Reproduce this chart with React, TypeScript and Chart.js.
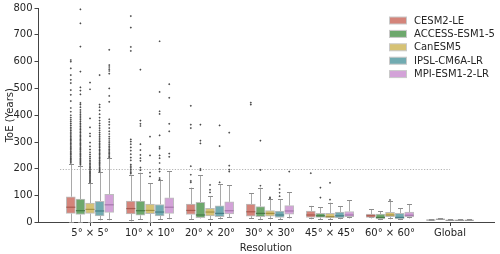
import React, { useEffect, useRef } from "react";
import { Chart, registerables } from "chart.js";

Chart.register(...registerables);

const categories = ["5° × 5°", "10° × 10°", "20° × 20°", "30° × 30°", "45° × 45°", "60° × 60°", "Global"];
const models = ["CESM2-LE", "ACCESS-ESM1-5", "CanESM5", "IPSL-CM6A-LR", "MPI-ESM1-2-LR"];
const fillColors = ["#d4847a", "#6da86c", "#d6c274", "#71abb1", "#d3a2d8"];
const medianColors = ["#a85a4f", "#477a47", "#a39044", "#487f86", "#a676ac"];
const yTicks = [0, 100, 200, 300, 400, 500, 600, 700, 800];
const threshold = 200;

// box statistics per model across categories
const cesmQ1 = [34, 32, 30, 24, 19, 19, 9];
const cesmMed = [57, 52, 45, 40, 28, 25, 9];
const cesmQ3 = [96, 80, 69, 69, 43, 31, 9];
const cesmLo = [0, 4, 10, 13, 12, 15, 9];
const cesmHi = [217, 177, 130, 109, 62, 49, 9];

const accessQ1 = [30, 27, 18, 22, 19, 13, 12];
const accessMed = [44, 44, 28, 34, 25, 19, 12];
const accessQ3 = [87, 80, 75, 59, 34, 31, 12];
const accessLo = [0, 10, 15, 9, 11, 9, 12];
const accessHi = [211, 186, 176, 130, 57, 42, 12];

const canQ1 = [34, 33, 25, 24, 17, 22, 8];
const canMed = [49, 45, 39, 34, 22, 28, 8];
const canQ3 = [72, 69, 53, 44, 34, 38, 8];
const canLo = [0, 0, 10, 12, 11, 12, 8];
const canHi = [146, 146, 99, 87, 74, 79, 8];

const ipslQ1 = [25, 25, 22, 19, 17, 13, 8];
const ipslMed = [43, 39, 34, 28, 25, 19, 8];
const ipslQ3 = [79, 67, 62, 43, 39, 34, 8];
const ipslLo = [8, 10, 12, 10, 12, 9, 8];
const ipslHi = [187, 157, 142, 87, 60, 54, 8];

const mpiQ1 = [38, 34, 32, 31, 22, 21, 8];
const mpiMed = [66, 57, 44, 43, 28, 27, 8];
const mpiQ3 = [105, 92, 77, 63, 41, 39, 8];
const mpiLo = [8, 12, 18, 15, 15, 15, 8];
const mpiHi = [240, 191, 139, 113, 83, 69, 8];

// outliers per model, one list per category
const cesmOutliers = [
  [222, 226, 230, 235, 239, 244, 248, 253, 257, 262, 266, 271, 276, 281, 285, 290, 295, 300, 305, 310, 315, 320, 326, 331, 337, 343, 349, 355, 362, 369, 376, 383, 391, 400, 413, 427, 453, 476, 494, 520, 532, 550, 575, 600, 606],
  [182, 187, 192, 198, 204, 210, 216, 232, 242, 255, 268, 280, 292, 302, 310, 640, 655, 727, 770],
  [150, 155, 178, 210, 352, 365, 435],
  [440, 447],
  [184],
  [],
  [],
];
const accessOutliers = [
  [215, 219, 223, 227, 232, 236, 240, 245, 249, 254, 258, 263, 267, 272, 276, 281, 286, 291, 295, 300, 305, 310, 315, 320, 325, 330, 336, 341, 347, 352, 358, 364, 370, 376, 383, 390, 397, 404, 412, 420, 430, 440, 446, 478, 492, 504, 563, 656, 743, 795],
  [195, 205, 230, 240, 252, 270, 292, 360, 368, 380, 570],
  [195, 200, 295, 305, 365],
  [137, 196, 305],
  [93, 130],
  [],
  [],
];
const canOutliers = [
  [150, 154, 158, 162, 166, 170, 174, 178, 183, 187, 191, 196, 200, 205, 210, 215, 220, 226, 232, 239, 246, 254, 262, 272, 284, 298, 322, 332, 355, 388, 497, 522],
  [172, 186, 250, 320],
  [112, 122, 140],
  [90, 94],
  [85, 148],
  [84],
  [],
];
const ipslOutliers = [
  [190, 194, 198, 202, 206, 211, 215, 220, 224, 229, 233, 238, 243, 248, 253, 258, 263, 268, 273, 279, 285, 290, 296, 302, 308, 315, 322, 329, 336, 344, 352, 361, 370, 380, 391, 404, 418, 430, 440, 550],
  [160, 166, 190, 200, 222, 240, 250, 275, 282, 325, 405, 415, 487, 676],
  [150, 285, 362],
  [98, 111, 125, 140],
  [],
  [],
  [],
];
const mpiOutliers = [
  [243, 247, 252, 257, 262, 267, 272, 278, 284, 290, 297, 304, 312, 320, 330, 340, 352, 365, 375, 385, 450, 472, 500, 555, 565, 572, 580, 587, 644],
  [245, 257, 340, 368, 465, 516],
  [190, 197, 212, 335],
  [190],
  [],
  [],
  [],
];

const stats = [
  { q1: cesmQ1, med: cesmMed, q3: cesmQ3, lo: cesmLo, hi: cesmHi, out: cesmOutliers },
  { q1: accessQ1, med: accessMed, q3: accessQ3, lo: accessLo, hi: accessHi, out: accessOutliers },
  { q1: canQ1, med: canMed, q3: canQ3, lo: canLo, hi: canHi, out: canOutliers },
  { q1: ipslQ1, med: ipslMed, q3: ipslQ3, lo: ipslLo, hi: ipslHi, out: ipslOutliers },
  { q1: mpiQ1, med: mpiMed, q3: mpiQ3, lo: mpiLo, hi: mpiHi, out: mpiOutliers },
];

const FONT = "DejaVu Sans";
const TEXT = "#262626";
const LINE = "#a9a9a9";
const dodge = (k: number) => (k - (models.length - 1) / 2) * 0.16;
const BOX_PX = 9;

const boxPlugin = {
  id: "boxExtras",
  beforeDatasetsDraw(chart: any) {
    const { ctx, scales } = chart;
    const x = scales.x;
    const y = scales.y;
    ctx.save();
    // threshold line
    ctx.strokeStyle = "#a0a0a0";
    ctx.lineWidth = 0.8;
    ctx.setLineDash([1.2, 1.6]);
    ctx.beginPath();
    const ty = Math.round(y.getPixelForValue(threshold)) + 0.5;
    ctx.moveTo(x.getPixelForValue(-0.5), ty);
    ctx.lineTo(x.getPixelForValue(categories.length - 1), ty);
    ctx.stroke();
    ctx.setLineDash([]);
    // whiskers and caps
    ctx.strokeStyle = LINE;
    ctx.lineWidth = 1;
    stats.forEach((s, k) => {
      categories.forEach((_, i) => {
        const px = Math.round(x.getPixelForValue(i + dodge(k))) + 0.5;
        const yLo = y.getPixelForValue(s.lo[i]);
        const yQ1 = y.getPixelForValue(s.q1[i]);
        const yQ3 = y.getPixelForValue(s.q3[i]);
        const yHi = y.getPixelForValue(s.hi[i]);
        ctx.beginPath();
        ctx.moveTo(px, yQ3);
        ctx.lineTo(px, yHi);
        ctx.moveTo(px, yQ1);
        ctx.lineTo(px, yLo);
        ctx.stroke();
        ctx.strokeStyle = "#8c8c8c";
        ctx.beginPath();
        ctx.moveTo(px - 2.5, Math.round(yHi) + 0.5);
        ctx.lineTo(px + 2.5, Math.round(yHi) + 0.5);
        ctx.moveTo(px - 2.5, Math.round(yLo) - 0.5);
        ctx.lineTo(px + 2.5, Math.round(yLo) - 0.5);
        ctx.stroke();
        ctx.strokeStyle = LINE;
      });
    });
    ctx.restore();
  },
  afterDatasetsDraw(chart: any) {
    const { ctx, scales } = chart;
    const x = scales.x;
    const y = scales.y;
    ctx.save();
    ctx.lineWidth = 1.2;
    stats.forEach((s, k) => {
      categories.forEach((_, i) => {
        const px = x.getPixelForValue(i + dodge(k));
        const my = y.getPixelForValue(s.med[i]);
        const collapsed = s.q1[i] === s.q3[i];
        ctx.strokeStyle = collapsed ? "#9a9a9a" : medianColors[k];
        ctx.beginPath();
        ctx.moveTo(px - BOX_PX / 2, my);
        ctx.lineTo(px + BOX_PX / 2, my);
        ctx.stroke();
      });
    });
    // legend
    const lx = 389;
    const ly = 20.5;
    ctx.font = `10px "${FONT}"`;
    ctx.textBaseline = "middle";
    ctx.textAlign = "left";
    models.forEach((m, k) => {
      const cy = ly + k * 13.4;
      ctx.fillStyle = fillColors[k];
      ctx.fillRect(lx, cy - 3.5, 18, 7);
      ctx.strokeStyle = "#c9c9c9";
      ctx.lineWidth = 1;
      ctx.strokeRect(lx + 0.5, cy - 3.5, 17, 7);
      ctx.fillStyle = TEXT;
      ctx.fillText(m, lx + 25, cy + 0.5);
    });
    ctx.restore();
  },
};

export default function App() {
  const ref = useRef<HTMLCanvasElement | null>(null);
  useEffect(() => {
    if (!ref.current) return;
    const boxSets = models.map((m, k) => ({
      type: "bar" as const,
      label: m,
      data: categories.map((_, i) => ({ x: i + dodge(k), y: [stats[k].q1[i], stats[k].q3[i]] })),
      backgroundColor: fillColors[k],
      borderColor: "#bdbdbd",
      borderWidth: 1,
      borderSkipped: false,
      barThickness: BOX_PX,
      grouped: false,
      order: 2,
    }));
    const outlierSets = models.map((m, k) => ({
      type: "scatter" as const,
      label: m + " outliers",
      data: stats[k].out.flatMap((vals, i) => vals.map((v) => ({ x: i + dodge(k), y: v }))),
      backgroundColor: "#4a4a4a",
      borderColor: "#4a4a4a",
      borderWidth: 0,
      pointRadius: 1.1,
      pointStyle: "rectRot",
      order: 1,
    }));
    const chart = new Chart(ref.current, {
      type: "bar",
      data: { datasets: [...boxSets, ...outlierSets] as any },
      plugins: [boxPlugin],
      options: {
        animation: false,
        responsive: false,
        events: [],
        layout: { padding: { top: 8, right: 6, left: 0, bottom: 0 } },
        plugins: { legend: { display: false }, tooltip: { enabled: false } },
        scales: {
          x: {
            type: "linear",
            min: -0.867,
            max: 6.733,
            offset: false,
            afterBuildTicks: (scale: any) => {
              scale.ticks = categories.map((_, i) => ({ value: i }));
            },
            afterFit: (scale: any) => {
              scale.height = 31.5;
            },
            ticks: {
              autoSkip: false,
              maxRotation: 0,
              padding: 1,
              color: TEXT,
              font: { family: FONT, size: 10 },
              callback: (v: any) => categories[Math.round(Number(v))] ?? "",
            },
            grid: { display: true, drawOnChartArea: false, drawTicks: true, tickLength: 3.5, color: "#444", offset: false },
            border: { display: true, color: "#444", width: 1 },
            title: { display: true, text: "Resolution", color: TEXT, font: { family: FONT, size: 10 }, padding: { top: 3, bottom: 0 } },
          },
          y: {
            type: "linear",
            min: yTicks[0],
            max: yTicks[yTicks.length - 1],
            afterBuildTicks: (scale: any) => {
              scale.ticks = yTicks.map((v) => ({ value: v }));
            },
            afterFit: (scale: any) => {
              scale.width = 38;
            },
            ticks: { padding: 2, color: TEXT, font: { family: FONT, size: 10 } },
            grid: { display: true, drawOnChartArea: false, drawTicks: true, tickLength: 3.5, color: "#444" },
            border: { display: true, color: "#444", width: 1 },
            title: { display: true, text: "ToE (Years)", color: TEXT, font: { family: FONT, size: 10 }, padding: { top: 4, bottom: 0 } },
          },
        },
      } as any,
    });
    return () => chart.destroy();
  }, []);
  return (
    <div style={{ position: "fixed", left: 0, top: 0, width: 500, height: 254, background: "#fff" }}>
      <canvas ref={ref} width={500} height={254} style={{ display: "block" }} />
    </div>
  );
}
